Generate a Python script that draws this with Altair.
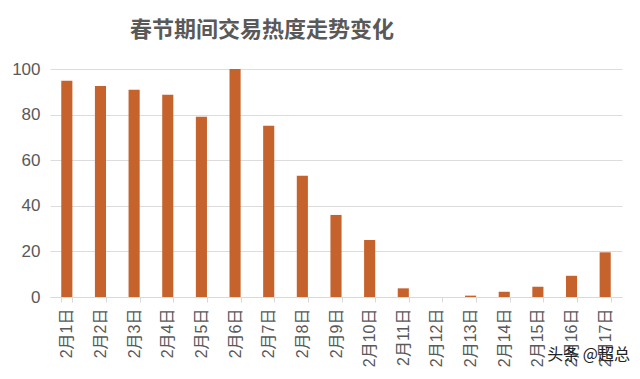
import altair as alt
import pandas as pd

dates = ["2月1日", "2月2日", "2月3日", "2月4日", "2月5日", "2月6日", "2月7日", "2月8日", "2月9日",
         "2月10日", "2月11日", "2月12日", "2月13日", "2月14日", "2月15日", "2月16日", "2月17日"]
heat = [94.9, 92.5, 90.9, 88.7, 79.1, 100, 75.1, 53.2, 36, 25, 3.8, 0, 0.6, 2.3, 4.5, 9.3, 19.6]
y_ticks = [0, 20, 40, 60, 80, 100]

df = pd.DataFrame({"date": dates, "heat": heat})
FONT = "Noto Sans CJK SC"
LFONT = "Liberation Sans, Noto Sans CJK SC"

bars = alt.Chart(df).mark_bar(color="#c6622c").encode(
    x=alt.X("date:N", sort=dates, title=None,
            scale=alt.Scale(paddingInner=0.67, paddingOuter=0.335),
            axis=alt.Axis(labelAngle=270, labelAlign="right", labelBaseline="middle",
                          labelFont=LFONT, labelFontSize=16, labelColor="#595959",
                          labelPadding=6, tickBand="extent", tickSize=5,
                          tickColor="#d9d9d9", domainColor="#d9d9d9", grid=False)),
    y=alt.Y("heat:Q", title=None, scale=alt.Scale(domain=[0, 100], nice=False),
            axis=alt.Axis(values=y_ticks, labelFont=LFONT, labelFontSize=17,
                          labelColor="#595959", domain=False, ticks=False,
                          labelPadding=10, gridColor="#dcdcdc"))
)

wm = alt.Chart(pd.DataFrame({"t": ["头条 @超总"]})).mark_text(
    font=FONT, fontSize=16, color="#222222", align="right", baseline="middle"
).encode(text="t:N", x=alt.value(580), y=alt.value(286))

chart = alt.layer(bars, wm).properties(
    width=572, height=228,
    title=alt.TitleParams("春节期间交易热度走势变化", font=FONT, fontSize=22,
                          fontWeight="bold", color="#595959", offset=18, dx=-74),
    autosize=alt.AutoSizeParams(type="none"),
    padding={"left": 42, "top": 61, "right": 10, "bottom": 74},
).configure_view(stroke=None)

chart.save("out.html", embed_options={"renderer": "svg", "actions": False})
